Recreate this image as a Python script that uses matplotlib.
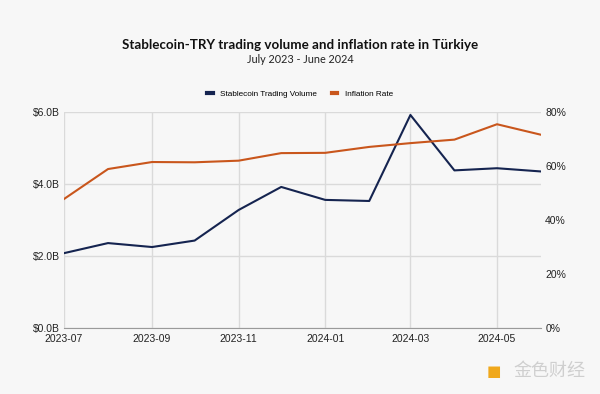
import matplotlib.pyplot as plt
import matplotlib.dates as mdates
import pandas as pd

# Monthly data, July 2023 - June 2024
months = pd.date_range('2023-07-01', '2024-06-01', freq='MS')
volume_b = [2.08, 2.36, 2.25, 2.43, 3.28, 3.92, 3.56, 3.53, 5.92, 4.38, 4.44, 4.35]
inflation = [47.8, 58.9, 61.5, 61.4, 62.0, 64.8, 64.9, 67.1, 68.5, 69.8, 75.5, 71.6]
tick_months = pd.date_range('2023-07-01', '2024-05-01', freq='2MS')

navy = '#152450'
orange = '#c9561c'
bg = '#f7f7f7'

fig = plt.figure(figsize=(6, 3.94), dpi=100, facecolor=bg)
ax = fig.add_axes([0.1067, 0.1675, 0.795, 0.548], facecolor=bg)
ax2 = ax.twinx()

l1, = ax.plot(months, volume_b, color=navy, lw=1.5, label='Stablecoin Trading Volume')
l2, = ax2.plot(months, inflation, color=orange, lw=1.5, label='Inflation Rate')

ax.set_ylim(0, 6)
ax.set_yticks([0, 2, 4, 6])
ax.set_yticklabels([f'${v:.1f}B' for v in [0, 2, 4, 6]])
ax2.set_ylim(0, 80)
ax2.set_yticks([0, 20, 40, 60, 80])
ax2.set_yticklabels([f'{v}%' for v in [0, 20, 40, 60, 80]])

ax.set_xlim(months[0], months[-1])
ax.set_xticks(tick_months)
ax.xaxis.set_major_formatter(mdates.DateFormatter('%Y-%m'))

ax.grid(True, color='#dadada', lw=1)
ax.set_axisbelow(True)
for a in (ax, ax2):
    for s in a.spines.values():
        s.set_visible(False)
    a.tick_params(length=0, labelsize=7.5, colors='#222222')
    for lab in a.get_xticklabels() + a.get_yticklabels():
        lab.set_family('Liberation Sans')
ax.spines['bottom'].set_visible(True)
ax.spines['bottom'].set_color('#9a9a9a')
ax.tick_params(axis='x', pad=4)
ax.tick_params(axis='y', pad=3)
ax2.tick_params(axis='y', pad=3)

fig.text(0.5, 0.875, 'Stablecoin-TRY trading volume and inflation rate in Türkiye',
         ha='center', fontsize=9.6, fontweight='bold', family='Lato', color='#111111')
fig.text(0.5, 0.84, 'July 2023 - June 2024', ha='center', fontsize=7.8,
         family='Lato', color='#222222')

fig.legend(handles=[l1, l2], loc='center', bbox_to_anchor=(0.5, 0.762), ncol=2,
           frameon=False, handlelength=0.7, handletextpad=0.9,
           columnspacing=1.8, prop={'family': 'Liberation Sans', 'size': 5.9})
for h in fig.legends[0].legend_handles:
    h.set_linewidth(3)

# watermark
fig.text(0.823, 0.058, '■', color='#f0a81c', fontsize=11, ha='center', va='center')
fig.text(0.915, 0.058, '金色财经', color='#cfcfcf', fontsize=13,
         family=['Noto Sans CJK SC', 'DejaVu Sans'], ha='center', va='center')

fig.savefig('out.png', dpi=100, facecolor=bg)
